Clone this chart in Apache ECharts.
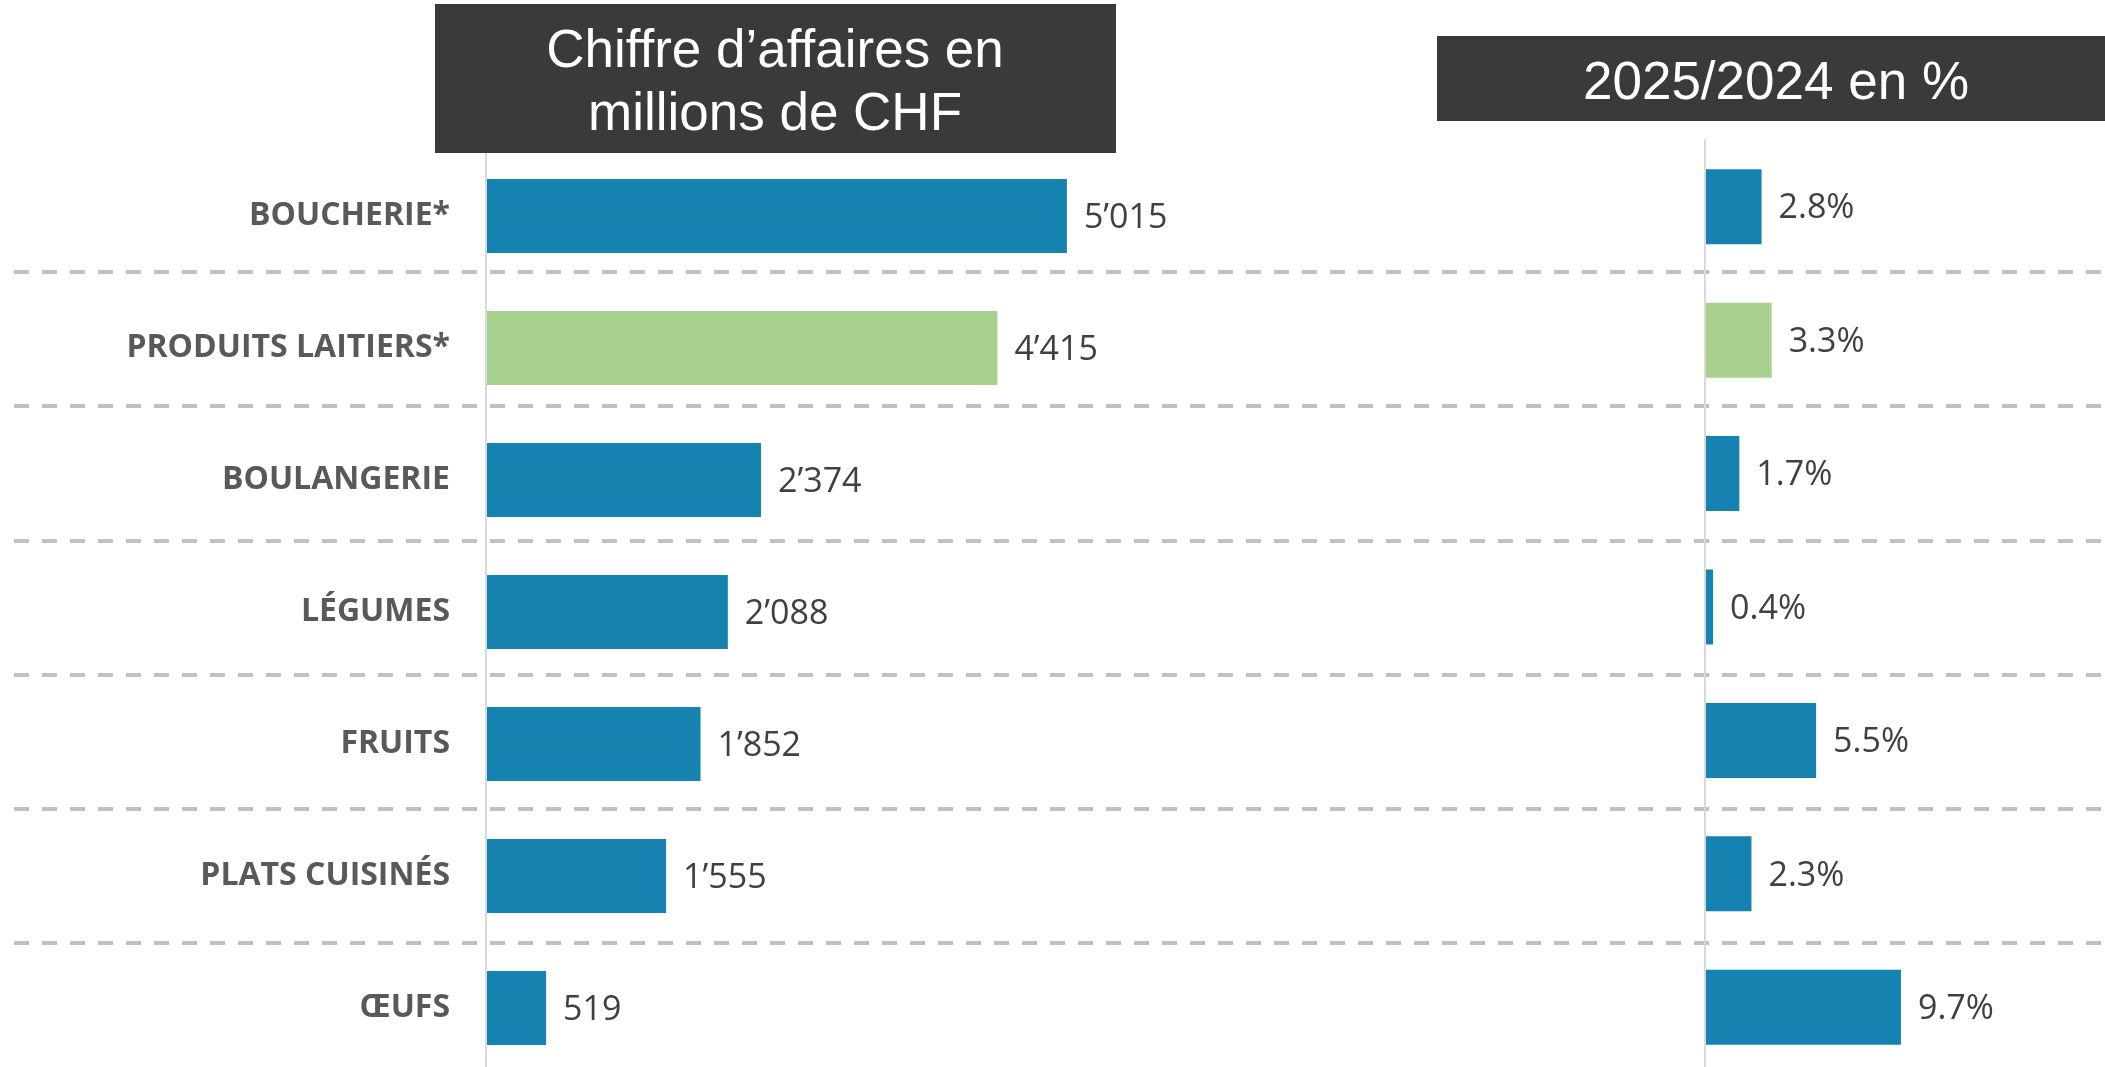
<!DOCTYPE html>
<html>
<head>
<meta charset="utf-8">
<script src="https://cdn.jsdelivr.net/npm/echarts@6/dist/echarts.min.js"></script>
<style>
html, body { margin: 0; padding: 0; background: #fff; }
#main { width: 2105px; height: 1067px; }
</style>
</head>
<body>
<div id="main"></div>
<script>
// données
var categories = ['BOUCHERIE*', 'PRODUITS LAITIERS*', 'BOULANGERIE', 'LÉGUMES', 'FRUITS', 'PLATS CUISINÉS', 'ŒUFS'];
var chiffreAffaires = [5015, 4415, 2374, 2088, 1852, 1555, 519];
var variation = [2.8, 3.3, 1.7, 0.4, 5.5, 2.3, 9.7];
var titreGauche = 'Chiffre d’affaires en\nmillions de CHF';
var titreDroite = '2025/2024 en %';
var highlight = 'PRODUITS LAITIERS*';

var BLEU = '#1682AF';
var VERT = '#A9D18E';

function couleur(params) {
    return categories[params.dataIndex] === highlight ? VERT : BLEU;
}

function milliers(v) {
    return String(v).replace(/\B(?=(\d{3})+(?!\d))/g, '’');
}

var myChart = echarts.init(document.getElementById('main'));

var option = {
    animation: false,
    backgroundColor: '#fff',
    grid: [
        { left: 486, top: 150, width: 695, height: 924, outerBoundsMode: 'none' },
        { left: 1705, top: 140, width: 303, height: 934, outerBoundsMode: 'none' },
        // grille pour les séparateurs pointillés
        { left: 14, top: 272, width: 2091, height: 671, outerBoundsMode: 'none' }
    ],
    xAxis: [
        { gridIndex: 0, type: 'value', min: 0, max: 6000, show: false },
        { gridIndex: 1, type: 'value', min: 0, max: 15, show: false },
        { gridIndex: 2, type: 'value', min: 0, max: 1, show: false }
    ],
    yAxis: [
        {
            gridIndex: 0, type: 'category', data: categories, inverse: true,
            axisLine: { show: true, lineStyle: { color: '#D9D9D9', width: 2 } },
            axisTick: { show: false },
            axisLabel: {
                margin: 36, fontFamily: 'Open Sans', fontWeight: 'bold',
                fontSize: 32, color: '#595959'
            },
            z: 5
        },
        {
            gridIndex: 1, type: 'category', data: categories, inverse: true,
            axisLine: { show: true, lineStyle: { color: '#D9D9D9', width: 2 } },
            axisTick: { show: false },
            axisLabel: { show: false },
            z: 5
        },
        {
            gridIndex: 2, type: 'value', min: 0, max: 5, interval: 1,
            axisLine: { show: false }, axisTick: { show: false }, axisLabel: { show: false },
            splitLine: { show: true, lineStyle: { color: '#C0C0C0', width: 4, type: [15, 13] } },
            z: 0
        }
    ],
    series: [
        {
            type: 'bar', xAxisIndex: 0, yAxisIndex: 0,
            data: chiffreAffaires, barWidth: 74,
            itemStyle: { color: couleur },
            label: {
                show: true, position: 'right', distance: 17, offset: [0, 2],
                fontFamily: 'Open Sans', fontSize: 34, color: '#404040',
                formatter: function (p) { return milliers(p.value); }
            },
            emphasis: { disabled: true },
            z: 3
        },
        {
            type: 'bar', xAxisIndex: 1, yAxisIndex: 1,
            data: variation, barWidth: 75,
            itemStyle: { color: couleur },
            label: {
                show: true, position: 'right', distance: 17, offset: [0, 2],
                fontFamily: 'Open Sans', fontSize: 34, color: '#404040',
                formatter: function (p) { return p.value.toFixed(1) + '%'; }
            },
            emphasis: { disabled: true },
            z: 3
        }
    ],
    graphic: [
        { type: 'rect', shape: { x: 435, y: 4, width: 681, height: 149 }, style: { fill: '#3B3A38' }, z: 10 },
        {
            type: 'text', z: 11,
            style: {
                x: 775, y: 84, text: titreGauche, align: 'center', verticalAlign: 'middle',
                fill: '#fff', fontFamily: 'Liberation Sans', fontSize: 53, lineHeight: 63
            }
        },
        { type: 'rect', shape: { x: 1437, y: 36, width: 668, height: 85 }, style: { fill: '#3B3A38' }, z: 10 },
        {
            type: 'text', z: 11,
            style: {
                x: 1776, y: 84, text: titreDroite, align: 'center', verticalAlign: 'middle',
                fill: '#fff', fontFamily: 'Liberation Sans', fontSize: 53
            }
        }
    ]
};

myChart.setOption(option);
</script>
</body>
</html>
